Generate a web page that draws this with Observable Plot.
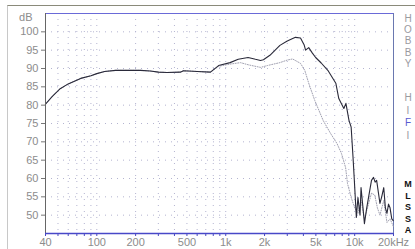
<!DOCTYPE html>
<html>
<head>
<meta charset="utf-8">
<script src="https://cdn.jsdelivr.net/npm/d3@7"></script>
<script src="https://cdn.jsdelivr.net/npm/@observablehq/plot@0.6"></script>
<style>
  html, body { margin: 0; padding: 0; background: #fff; }
  #wrap { position: relative; width: 415px; height: 249px; overflow: hidden; font-family: "Liberation Sans", Arial, sans-serif; }
  #frame { position: absolute; left: 7px; top: 5px; right: -2px; bottom: -2px; border-left: 1px solid #c8c8c8; border-top: 1px solid #8a8a7a; pointer-events: none; }
  .side { position: absolute; left: 403px; width: 10px; text-align: center; font-size: 10px; line-height: 12px; }
</style>
</head>
<body>
<div id="wrap">
  <div id="frame"></div>
</div>
<script>
// On-axis response (solid)
const mainFreq = [40, 45, 52, 60, 75, 90, 100, 115, 140, 180, 218, 260, 301, 350, 444, 470, 600, 761, 880, 1080, 1250, 1490, 1700, 1860, 1960, 2200, 2630, 3000, 3470, 3800, 4050, 4160, 4400, 4700, 4980, 5500, 6190, 7140, 7530, 8240, 8550, 9040, 9390, 9700, 9910, 10300, 10600, 11000, 11200, 11600, 11900, 12400, 12800, 13500, 14000, 14400, 14800, 15700, 16200, 16800, 17300, 17800, 18300, 18800, 19400, 19900];
const mainDb   = [80.3, 82.3, 84.5, 85.8, 87.3, 88.0, 88.6, 89.2, 89.5, 89.5, 89.5, 89.3, 89.0, 88.9, 89.0, 89.4, 89.2, 89.0, 90.8, 91.6, 92.5, 93.0, 92.5, 92.2, 92.4, 93.6, 96.3, 97.5, 98.5, 98.3, 96.5, 95.0, 95.7, 94.2, 93.0, 91.5, 89.5, 86.0, 81.8, 79.1, 80.5, 75.8, 74.0, 66.0, 60.3, 49.4, 54.8, 50.0, 57.5, 52.0, 47.7, 52.0, 54.8, 59.5, 60.3, 59.0, 59.5, 53.2, 55.0, 57.5, 52.0, 50.5, 53.0, 52.0, 49.0, 48.5];
// Off-axis response (dotted)
const offFreq = [40, 45, 52, 60, 75, 90, 100, 115, 140, 180, 218, 260, 301, 350, 444, 470, 600, 761, 880, 1080, 1300, 1500, 1860, 2100, 2630, 3000, 3300, 3800, 4100, 4400, 4900, 5700, 6500, 7300, 7900, 8500, 8800, 9400, 10000, 10600, 11200, 11900, 12800, 13500, 14300, 15000, 15700, 16800, 17800, 18800, 19900];
const offDb   = [80.3, 82.3, 84.5, 85.8, 87.3, 88.0, 88.6, 89.2, 89.5, 89.5, 89.5, 89.3, 89.0, 88.9, 89.0, 89.4, 89.2, 89.0, 90.6, 91.2, 91.6, 91.0, 90.3, 90.8, 91.6, 92.3, 92.6, 91.4, 89.5, 86.0, 81.3, 75.8, 72.3, 69.5, 66.8, 63.0, 58.6, 54.8, 52.0, 50.5, 54.0, 49.0, 53.0, 56.0, 55.5, 52.0, 50.0, 54.0, 48.0, 49.0, 47.0];

const yTicks = [50, 55, 60, 65, 70, 75, 80, 85, 90, 95, 100];
const xTicks = [40, 100, 200, 500, 1000, 2000, 5000, 10000, 20000];
const xLabels = ["40", "100", "200", "500", "1k", "2k", "5k", "10k", "20kHz"];
const minorTicks = [40, 50, 60, 70, 80, 90, 100, 200, 300, 400, 500, 600, 700, 800, 900, 1000, 2000, 3000, 4000, 5000, 6000, 7000, 8000, 9000, 10000, 20000];
const brandTop = ["H", "O", "B", "B", "Y"];
const brandMid = ["H", "I", "F", "I"];
const brandBot = ["M", "L", "S", "S", "A"];

const mainData = mainFreq.map((f, i) => ({f, db: mainDb[i]}));
const offData = offFreq.map((f, i) => ({f, db: offDb[i]}));
const xLabelData = xTicks.map((f, i) => ({f, label: xLabels[i]}));

const chart = Plot.plot({
  width: 415, height: 249,
  marginLeft: 45, marginRight: 22, marginTop: 13, marginBottom: 16,
  style: {fontFamily: "'Liberation Sans', Arial, sans-serif", fontSize: "11px", color: "#8c8c8c", background: "transparent", overflow: "visible"},
  x: {type: "log", domain: [40, 20000]},
  y: {domain: [45, 105]},
  marks: [
    Plot.ruleX(minorTicks.filter(d => d > 40 && d < 20000), {stroke: "#b4b4d0", strokeDasharray: "1,5", strokeWidth: 1}),
    Plot.ruleY(yTicks, {stroke: "#b4b4d0", strokeDasharray: "1,5", strokeWidth: 1}),
    Plot.axisY(yTicks, {tickSize: 4, tickPadding: 3, label: null, stroke: "#777"}),
    Plot.axisX(minorTicks, {tickSize: 3, tickFormat: () => "", label: null, stroke: "#4848c0"}),
    Plot.text(xLabelData, {x: "f", text: "label", frameAnchor: "bottom", lineAnchor: "top", dy: 5, fill: "#8c8c8c"}),
    Plot.text(["dB"], {frameAnchor: "top-left", textAnchor: "end", dx: -13, fill: "#8c8c8c"}),
    Plot.ruleY([105], {stroke: "#6a6ad8", strokeWidth: 1.2}),
    Plot.ruleX([20000], {stroke: "#6a78b0", strokeWidth: 1}),
    Plot.line(offData, {x: "f", y: "db", stroke: "#a0a0b0", strokeWidth: 1, strokeDasharray: "1,1.5"}),
    Plot.line(mainData, {x: "f", y: "db", stroke: "#2a2a3a", strokeWidth: 1.1}),
    Plot.ruleX([40], {stroke: "#666", strokeWidth: 1}),
    Plot.ruleY([45], {stroke: "#4848c8", strokeWidth: 1.5})
  ]
});
chart.style.position = "absolute";
chart.style.left = "0px";
chart.style.top = "0px";
const wrap = document.getElementById("wrap");
wrap.appendChild(chart);

function addStack(letters, y0, step, css) {
  letters.forEach((ch, i) => {
    const d = document.createElement("div");
    d.className = "side";
    d.textContent = ch;
    d.style.top = (y0 + i * step - 6) + "px";
    Object.assign(d.style, css(ch));
    wrap.appendChild(d);
  });
}
addStack(brandTop, 19, 11.2, () => ({color: "#9a9aa0"}));
addStack(brandMid, 98, 12.5, ch => ({color: ch === "F" ? "#5a5ad0" : "#9a9aa0"}));
addStack(brandBot, 184, 11.5, () => ({color: "#111", fontWeight: "bold", fontSize: "9px"}));
</script>
</body>
</html>
